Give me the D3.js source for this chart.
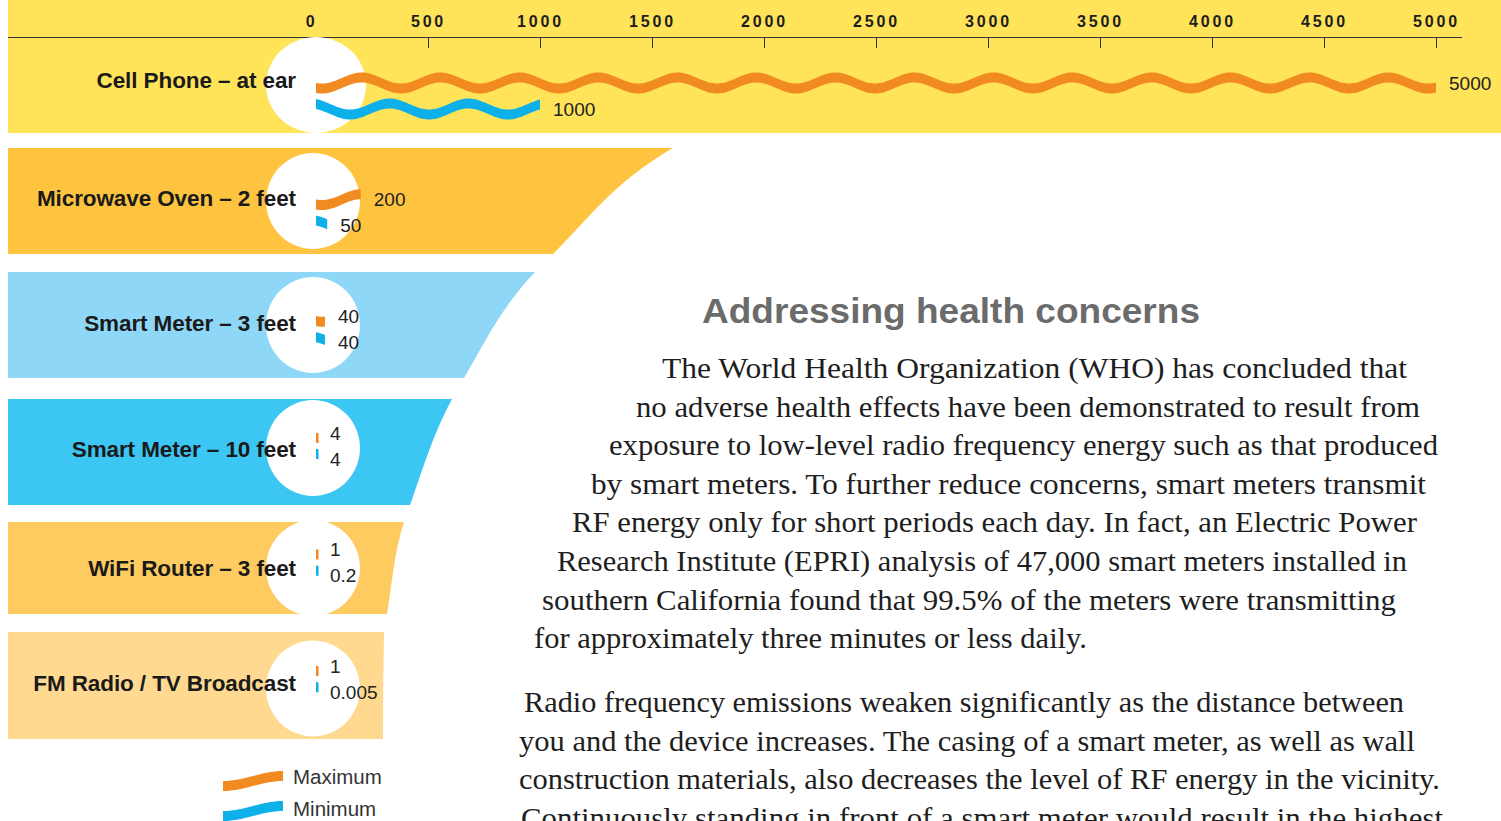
<!DOCTYPE html>
<html>
<head>
<meta charset="utf-8">
<script src="https://cdn.jsdelivr.net/npm/d3@7"></script>
<style>
  body { margin: 0; background: #fff; overflow: hidden; }
  svg { display: block; }
</style>
</head>
<body>
<div id="chart"></div>
<script>
// RF exposure values
var devices = ["Cell Phone – at ear", "Microwave Oven – 2 feet", "Smart Meter – 3 feet",
               "Smart Meter – 10 feet", "WiFi Router – 3 feet", "FM Radio / TV Broadcast"];
var maxValues = [5000, 200, 40, 4, 1, 1];
var minValues = [1000, 50, 40, 4, 0.2, 0.005];
var axisTicks = [0, 500, 1000, 1500, 2000, 2500, 3000, 3500, 4000, 4500, 5000];
var legendLabels = ["Maximum", "Minimum"];

var heading = "Addressing health concerns";
var para1 = [
  "The World Health Organization (WHO) has concluded that",
  "no adverse health effects have been demonstrated to result from",
  "exposure to low-level radio frequency energy such as that produced",
  "by smart meters. To further reduce concerns, smart meters transmit",
  "RF energy only for short periods each day. In fact, an Electric Power",
  "Research Institute (EPRI) analysis of 47,000 smart meters installed in",
  "southern California found that 99.5% of the meters were transmitting",
  "for approximately three minutes or less daily."
];
var para2 = [
  "Radio frequency emissions weaken significantly as the distance between",
  "you and the device increases. The casing of a smart meter, as well as wall",
  "construction materials, also decreases the level of RF energy in the vicinity.",
  "Continuously standing in front of a smart meter would result in the highest"
];

// layout
var width = 1501, height = 821;
var axisY = 37;
var bandColors = ["#FFE358", "#FEC440", "#8FD7F6", "#3BC6F3", "#FDCB5F", "#FED98F"];
var bandTops = [0, 148, 272, 399, 522, 632];
var bandBottoms = [133, 254, 378, 505, 614, 739];
var discShift = [0, 0, 0, -4, 0, 3];
var nameShift = [-5, -3, -2, -3, 0, -3];
var orange = "#F28A22", blue = "#0DB0E8";
// funnel outline on the right of the lower bands (decorative)
var funnel = [[700, 133], [673, 148], [553, 254], [535, 272], [464, 378], [452, 399],
              [410, 505], [404, 522], [387, 614], [384, 632], [383, 739], [383, 750]];
var p1Starts = [662, 636, 609, 591, 572, 557, 542, 534];
var p1Ends = [1407, 1420, 1438, 1426, 1417, 1407, 1396, 1087];
var p2Starts = [524, 519, 519, 521];
var p2Ends = [1404, 1415, 1440, 1443];

var svg = d3.select("#chart").append("svg")
    .attr("width", width)
    .attr("height", height);

var x = d3.scaleLinear().domain([0, 5000]).range([316, 1436]);
var yRow = d3.scalePoint().domain(devices).range([96, 679]);

// clip for the funnel shaped bands
var edge = d3.line().curve(d3.curveMonotoneY)(funnel);
svg.append("clipPath").attr("id", "funnel")
  .append("path")
    .attr("d", edge + "L0,750L0,133Z");

// background bands
svg.append("rect")
    .attr("x", 8).attr("y", bandTops[0])
    .attr("width", width - 8).attr("height", bandBottoms[0] - bandTops[0])
    .attr("fill", bandColors[0]);

svg.append("g").attr("clip-path", "url(#funnel)")
  .selectAll("rect")
  .data(devices.slice(1))
  .enter().append("rect")
    .attr("x", 8)
    .attr("y", function(d, i) { return bandTops[i + 1]; })
    .attr("width", 800)
    .attr("height", function(d, i) { return bandBottoms[i + 1] - bandTops[i + 1]; })
    .attr("fill", function(d, i) { return bandColors[i + 1]; });

// axis
var axis = d3.axisTop(x)
    .tickValues(axisTicks)
    .tickSizeInner(-11)
    .tickSizeOuter(0)
    .tickPadding(10)
    .tickFormat(d3.format("d"));

var gAxis = svg.append("g")
    .attr("transform", "translate(0," + axisY + ")")
    .call(axis);
gAxis.select(".domain").remove();
gAxis.selectAll(".tick line").attr("stroke", "#333");
gAxis.selectAll(".tick text")
    .attr("fill", "#1e1e1e")
    .attr("dx", function(d) { return d === 0 ? -5 : 0; })
    .style("font", "bold 16px 'Liberation Sans', Arial, sans-serif")
    .style("letter-spacing", "2.8px");
svg.append("line")
    .attr("x1", 8).attr("x2", 1462)
    .attr("y1", axisY + 0.5).attr("y2", axisY + 0.5)
    .attr("stroke", "#333");

function bandMid(i) {
  return (Math.max(bandTops[i], axisY) + bandBottoms[i]) / 2;
}

// white discs at zero
svg.selectAll(".disc")
  .data(devices)
  .enter().append("ellipse")
    .attr("class", "disc")
    .attr("cx", function(d, i) { return i === 0 ? x(0) : x(0) - 3; })
    .attr("cy", function(d, i) { return bandMid(i) + discShift[i]; })
    .attr("rx", function(d, i) { return i === 0 ? 50 : 47; })
    .attr("ry", 48)
    .attr("fill", "#fff");

// wavy ribbon
function ribbon(x0, len, cy, amp, thick, lambda, phase) {
  var n = Math.max(2, Math.ceil(len / 2));
  var pts = d3.range(n + 1).map(function(i) { return x0 + len * i / n; });
  function yc(px) { return cy + amp * Math.cos(2 * Math.PI * (px - x0 - phase) / lambda); }
  return d3.area()
    .x(function(d) { return d; })
    .y0(function(d) { return yc(d) - thick / 2; })
    .y1(function(d) { return yc(d) + thick / 2; })(pts);
}

var series = [
  { values: maxValues, color: orange, dy: -13, phase: 6 },
  { values: minValues, color: blue, dy: 13, phase: 34 }
];

series.forEach(function(s) {
  var g = svg.append("g");
  g.selectAll("path")
    .data(devices)
    .enter().append("path")
      .attr("fill", s.color)
      .attr("d", function(d, i) {
        var len = Math.max(x(s.values[i]) - x(0), 2.5);
        return ribbon(x(0), len, yRow(d) + s.dy, 5.5, 10, 79, s.phase);
      });
  g.selectAll("text")
    .data(devices)
    .enter().append("text")
      .attr("x", function(d, i) { return Math.max(x(s.values[i]) + 13, x(0) + 14); })
      .attr("y", function(d) { return yRow(d) + s.dy; })
      .attr("dy", "0.36em")
      .attr("fill", "#222")
      .style("font", "19px 'Liberation Sans', Arial, sans-serif")
      .text(function(d, i) { return s.values[i]; });
});

// device names
svg.selectAll(".name")
  .data(devices)
  .enter().append("text")
    .attr("class", "name")
    .attr("x", 296)
    .attr("y", function(d, i) { return bandMid(i) + nameShift[i]; })
    .attr("dy", "0.36em")
    .attr("text-anchor", "end")
    .attr("fill", "#1a1a1a")
    .style("font", "bold 22.5px 'Liberation Sans', Arial, sans-serif")
    .style("letter-spacing", "-0.1px")
    .text(function(d) { return d; });

// legend
var legend = svg.append("g").attr("transform", "translate(223,0)");
legend.selectAll("path")
  .data(legendLabels)
  .enter().append("path")
    .attr("fill", function(d, i) { return i === 0 ? orange : blue; })
    .attr("d", function(d, i) { return ribbon(0, 60, 781 + i * 30, 5, 10, 120, 0); });
legend.selectAll("text")
  .data(legendLabels)
  .enter().append("text")
    .attr("x", 70)
    .attr("y", function(d, i) { return 784 + i * 32; })
    .attr("fill", "#333")
    .style("font", "20.5px 'Liberation Sans', Arial, sans-serif")
    .text(function(d) { return d; });

// text column
svg.append("text")
    .attr("x", 702).attr("y", 323)
    .attr("fill", "#6b6b6b")
    .attr("textLength", 498)
    .attr("lengthAdjust", "spacingAndGlyphs")
    .style("font", "bold 35px 'Liberation Sans', Arial, sans-serif")
    .text(heading);

function paragraph(lines, starts, ends, y0, step) {
  svg.append("g").selectAll("text")
    .data(lines)
    .enter().append("text")
      .attr("x", function(d, i) { return starts[i]; })
      .attr("y", function(d, i) { return y0 + i * step; })
      .attr("textLength", function(d, i) { return ends[i] - starts[i]; })
      .attr("lengthAdjust", "spacingAndGlyphs")
      .attr("fill", "#1e1e1e")
      .style("font", "29px 'Liberation Serif', 'Times New Roman', serif")
      .text(function(d) { return d; });
}
paragraph(para1, p1Starts, p1Ends, 378, 38.6);
paragraph(para2, p2Starts, p2Ends, 712, 38.5);
</script>
</body>
</html>
